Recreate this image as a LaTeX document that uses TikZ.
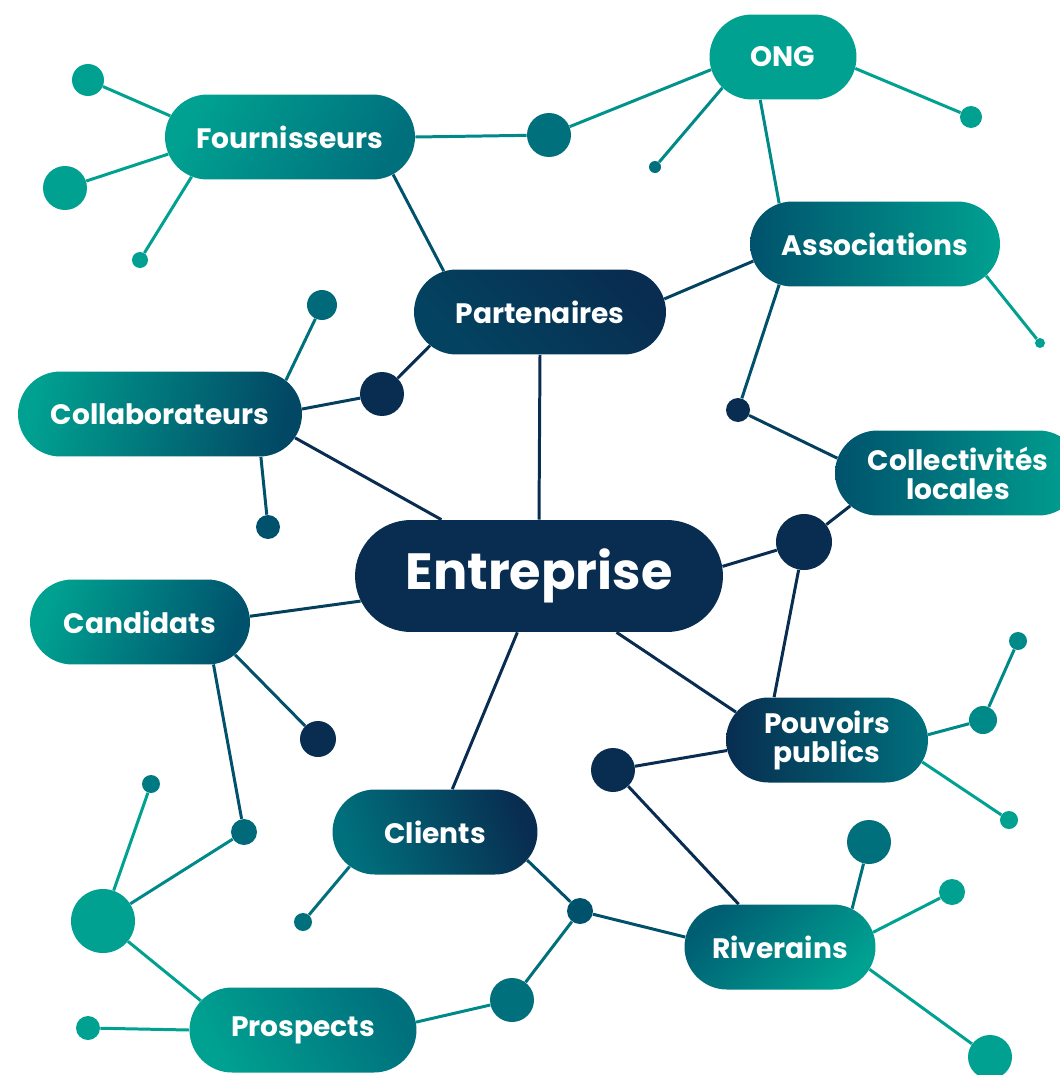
\documentclass[tikz,border=0pt]{standalone}
\usepackage{fontspec}
\setmainfont{Poppins}
\usetikzlibrary{shapes.misc,backgrounds}
\definecolor{Teal}{RGB}{0,161,145}
\definecolor{SeaTeal}{RGB}{0,137,137}
\definecolor{DeepTeal}{RGB}{0,112,125}
\definecolor{Petrol}{RGB}{0,82,108}
\definecolor{Navy}{RGB}{8,45,80}
\tikzset{
  pill/.style={rounded rectangle,text=white,font=\fontsize{16}{16.5}\selectfont\bfseries,
    minimum height=1.7cm,inner sep=0pt,align=center},
  dot/.style={circle,inner sep=0pt,minimum size=#1},
  link/.style={line width=1.7pt}
}
\begin{document}
\begin{tikzpicture}[x=0.02cm,y=-0.02cm]
  \useasboundingbox (0,0) rectangle (1059,1075);
  % groupes
  \node[pill,fill=Teal,minimum width=2.94cm] (ong) at (783,57) {ONG};
  \node[pill,left color=Teal,right color=DeepTeal,shading angle=60,minimum width=5cm] (fourn) at (290,137) {Fournisseurs};
  \node[pill,left color=Petrol,right color=Teal,shading angle=90,minimum width=5cm] (assoc) at (875,244) {Associations};
  \node[pill,left color=Petrol!60!Navy,right color=Navy,shading angle=135,minimum width=5.04cm] (part) at (540,312) {Partenaires};
  \node[pill,left color=Teal,right color=Petrol!70!Navy,shading angle=80,minimum width=5.68cm] (collab) at (160,414) {Collaborateurs};
  \node[pill,left color=Petrol,right color=Teal,shading angle=90,minimum width=4.92cm] (collec) at (958,473) {Collectivités\\locales};
  \node[pill,fill=Navy,minimum width=7.36cm,minimum height=2.24cm,font=\fontsize{29}{32}\selectfont\bfseries] (entr) at (539,576) {Entreprise};
  \node[pill,left color=Teal,right color=Petrol,shading angle=70,minimum width=4.4cm] (cand) at (140,622) {Candidats};
  \node[pill,left color=Navy,right color=DeepTeal,shading angle=90,minimum width=4.04cm] (pouv) at (827,740) {Pouvoirs\\publics};
  \node[pill,left color=DeepTeal,right color=Navy,shading angle=110,minimum width=4.1cm] (clients) at (435,832) {Clients};
  \node[pill,left color=Petrol!60!DeepTeal,right color=Teal,shading angle=45,minimum width=3.82cm] (riv) at (780,947) {Riverains};
  \node[pill,left color=Teal,right color=DeepTeal,shading angle=120,minimum width=4.54cm] (prosp) at (303,1030) {Prospects};
  % points
  \node[dot=0.64cm,fill=Teal] (fa) at (88,80) {};
  \node[dot=0.88cm,fill=Teal] (fb) at (65,188) {};
  \node[dot=0.32cm,fill=Teal] (fc) at (140,260) {};
  \node[dot=0.88cm,fill=DeepTeal] (fo) at (549,135) {};
  \node[dot=0.24cm,fill=DeepTeal] (oa) at (655,167) {};
  \node[dot=0.44cm,fill=Teal] (ob) at (971,117) {};
  \node[dot=0.2cm,fill=Teal] (aa) at (1040,343) {};
  \node[dot=0.48cm,fill=Navy] (ac) at (738,410) {};
  \node[dot=1.12cm,fill=Navy] (ce) at (804,542) {};
  \node[dot=0.88cm,fill=Navy] (pc) at (382,394) {};
  \node[dot=0.6cm,fill=DeepTeal!80!Petrol] (ca) at (322,305) {};
  \node[dot=0.48cm,fill=Petrol] (cb) at (268,527) {};
  \node[dot=0.72cm,fill=Navy] (na) at (318,739) {};
  \node[dot=0.52cm,fill=DeepTeal!80!Petrol] (nb) at (244,832) {};
  \node[dot=1.28cm,fill=Teal] (pa) at (103,921) {};
  \node[dot=0.36cm,fill=DeepTeal!60!SeaTeal] (pb) at (151,784) {};
  \node[dot=0.48cm,fill=Teal] (pd) at (88,1028) {};
  \node[dot=0.88cm,fill=DeepTeal] (pr) at (512,1000) {};
  \node[dot=0.52cm,fill=Petrol] (cr) at (580,911) {};
  \node[dot=0.36cm,fill=DeepTeal] (cl) at (303,922) {};
  \node[dot=0.88cm,fill=Navy] (rp) at (613,770) {};
  \node[dot=0.88cm,fill=DeepTeal] (ra) at (869,842) {};
  \node[dot=0.52cm,fill=Teal] (rb) at (952,892) {};
  \node[dot=0.88cm,fill=Teal] (rc) at (990,1057) {};
  \node[dot=0.56cm,fill=SeaTeal] (ua) at (983,720) {};
  \node[dot=0.36cm,fill=SeaTeal] (ub) at (1018,641) {};
  \node[dot=0.36cm,fill=Teal] (uc) at (1009,820) {};
  % liens
  \begin{scope}[on background layer={link}]
    \draw[Teal] (fa) -- (fourn.170);
    \draw[Teal] (fb) -- (fourn.188);
    \draw[Teal] (fc) -- (fourn.202);
    \draw[SeaTeal] (fourn.0) -- (fo);
    \draw[SeaTeal!60!Teal] (fo) -- (ong.190);
    \draw[SeaTeal] (ong.207) -- (oa);
    \draw[Teal] (ong.-9) -- (ob);
    \draw[SeaTeal] (ong.242) -- (assoc.157);
    \draw[Teal] (assoc.-16) -- (aa);
    \draw[Petrol] (assoc.203) -- (ac);
    \draw[Petrol!60!Navy] (assoc.188) -- (part.6);
    \draw[Petrol] (part.157) -- (fourn.-20);
    \draw[Navy] (part.south) -- (entr.north);
    \draw[Navy] (part.197) -- (pc);
    \draw[Petrol!50!Navy] (pc) -- (collab.2);
    \draw[DeepTeal] (collab.15) -- (ca);
    \draw[Petrol] (collab.-23) -- (cb);
    \draw[Navy] (collab.-10) -- (entr.150);
    \draw[Petrol!50!Navy] (ac) -- (collec.173);
    \draw[Navy] (collec.197) -- (ce);
    \draw[Navy] (ce) -- (entr.3);
    \draw[Navy] (ce) -- (pouv.141);
    \draw[Navy] (entr.-36) -- (pouv.163);
    \draw[Petrol!50!Navy] (entr.188) -- (cand.3);
    \draw[Navy] (entr.249) -- (clients.68);
    \draw[Petrol] (cand.-19) -- (na);
    \draw[Petrol] (cand.-30) -- (nb);
    \draw[SeaTeal] (nb) -- (pa);
    \draw[Teal] (pa) -- (pb);
    \draw[Teal] (pa) -- (prosp.164);
    \draw[Teal] (prosp.180) -- (pd);
    \draw[SeaTeal] (prosp.4) -- (pr);
    \draw[DeepTeal] (pr) -- (cr);
    \draw[Petrol] (clients.-17) -- (cr);
    \draw[DeepTeal] (clients.202) -- (cl);
    \draw[Petrol] (cr) -- (riv.174);
    \draw[Navy] (riv.134) -- (rp);
    \draw[Navy] (rp) -- (pouv.186);
    \draw[DeepTeal] (riv.28) -- (ra);
    \draw[Teal] (riv.9) -- (rb);
    \draw[Teal] (riv.-14) -- (rc);
    \draw[SeaTeal] (pouv.3) -- (ua);
    \draw[SeaTeal] (ua) -- (ub);
    \draw[Teal] (pouv.-13) -- (uc);
  \end{scope}
\end{tikzpicture}
\end{document}
